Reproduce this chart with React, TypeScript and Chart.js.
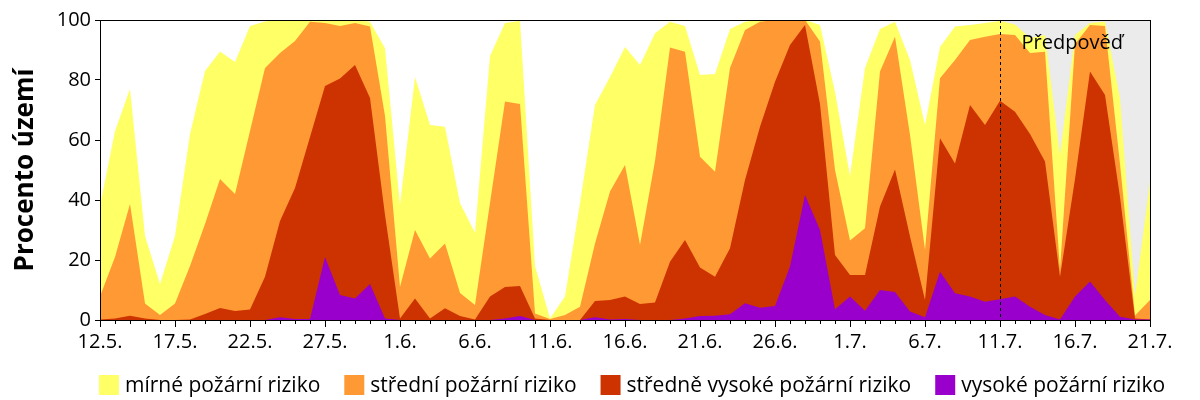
import React, { useEffect, useRef } from "react";
import { Chart, registerables } from "chart.js";

Chart.register(...registerables);

const labels: string[] = [
  "12.5.", "13.5.", "14.5.", "15.5.", "16.5.", "17.5.", "18.5.", "19.5.", "20.5.", "21.5.",
  "22.5.", "23.5.", "24.5.", "25.5.", "26.5.", "27.5.", "28.5.", "29.5.", "30.5.", "31.5.",
  "1.6.", "2.6.", "3.6.", "4.6.", "5.6.", "6.6.", "7.6.", "8.6.", "9.6.", "10.6.",
  "11.6.", "12.6.", "13.6.", "14.6.", "15.6.", "16.6.", "17.6.", "18.6.", "19.6.", "20.6.",
  "21.6.", "22.6.", "23.6.", "24.6.", "25.6.", "26.6.", "27.6.", "28.6.", "29.6.", "30.6.",
  "1.7.", "2.7.", "3.7.", "4.7.", "5.7.", "6.7.", "7.7.", "8.7.", "9.7.", "10.7.",
  "11.7.", "12.7.", "13.7.", "14.7.", "15.7.", "16.7.", "17.7.", "18.7.", "19.7.", "20.7.",
  "21.7.",
];

// cumulative share of territory (%) with at least the given risk level
const mirne: number[] = [
  38, 63, 77, 28, 12, 28, 62, 83, 89.5, 86,
  98, 99.5, 100, 100, 100, 100, 100, 100, 99.4, 90.6,
  38.3, 81, 65, 64.4, 39, 29, 88, 99, 99.7, 18,
  0.5, 7.8, 39, 71.7, 81, 91, 85, 95.6, 99.4, 98,
  81.7, 82, 97, 99.4, 100, 100, 100, 100, 98.3, 76,
  48, 84, 97, 99.4, 86.7, 65, 91, 97.8, 98.3, 99,
  99.7, 98.5, 94, 95, 55, 95, 99, 99.4, 74, 8,
  46,
];

const stredni: number[] = [
  7.8, 21, 38.7, 5.5, 1.7, 5.5, 18, 32, 47, 42,
  63, 84, 89, 93, 99.4, 99, 98, 99, 97.8, 68,
  11, 30, 20.5, 25.5, 9, 5, 39, 72.8, 72, 2.2,
  0.3, 1.7, 4.4, 25.5, 42.8, 51.7, 25, 53, 90.8, 89.4,
  54.4, 49.4, 84, 96.7, 99.4, 100, 100, 100, 92.8, 50,
  26.5, 30.6, 82.8, 94.4, 61.7, 23.3, 80.6, 86.7, 93.3, 94.4,
  95.3, 95, 89, 89.4, 16.7, 92, 98.3, 98, 52, 1.5,
  6.7,
];

const stredneVysoke: number[] = [
  0.2, 0.5, 1.4, 0.5, 0, 0, 0.2, 2, 4, 3,
  3.5, 14.4, 33, 44, 61, 78, 80.5, 85, 74, 35,
  0.5, 7.2, 0.5, 3.9, 1.3, 0.2, 7.8, 11, 11.3, 0.5,
  0, 0, 0, 6.3, 6.7, 7.8, 5.3, 5.8, 19.4, 26.7,
  17.5, 14.4, 23.9, 46.7, 64.4, 79.4, 91.7, 98.3, 72, 21.7,
  15, 15, 37.8, 50.2, 27.8, 6.7, 60.6, 52.2, 71.7, 65,
  73.1, 69.4, 62, 52.8, 14.4, 47, 82.8, 75, 41, 0.5,
  0.2,
];

const vysoke: number[] = [
  0, 0, 0, 0, 0, 0, 0, 0, 0, 0,
  0, 0, 0.9, 0.3, 0.3, 21, 8.3, 7.2, 12, 0.5,
  0, 0, 0, 0, 0, 0, 0, 0.5, 1.3, 0,
  0, 0, 0, 0.9, 0.2, 0.3, 0, 0, 0, 0.5,
  1.3, 1.4, 1.9, 5.6, 4.1, 4.7, 17.8, 41.7, 30, 3.6,
  7.8, 3.1, 10, 9.3, 2.8, 0.9, 16.1, 8.9, 7.8, 6.1,
  6.9, 7.8, 4.4, 1.7, 0.2, 7.8, 12.8, 6.7, 1.1, 0.2,
  0.2,
];

const seriesNames = [
  "mírné požární riziko",
  "střední požární riziko",
  "středně vysoké požární riziko",
  "vysoké požární riziko",
];
const seriesColors = ["#FFFF66", "#FF9933", "#CC3300", "#9900CC"];

const yTicks = [0, 20, 40, 60, 80, 100];
const forecastStart = "11.7.";
const forecastLabel = "Předpověď";
const yTitle = "Procento území";

const FONT = "'Open Sans', 'DejaVu Sans', sans-serif";

const forecastPlugin = {
  id: "forecast",
  beforeDatasetsDraw(chart: any) {
    const { ctx, chartArea } = chart;
    const xs = chart.scales.x;
    const x0 = xs.getPixelForValue(labels.indexOf(forecastStart));
    ctx.save();
    ctx.fillStyle = "#EBEBEB";
    ctx.fillRect(x0, chartArea.top, chartArea.right - x0, chartArea.bottom - chartArea.top);
    ctx.restore();
  },
  afterDatasetsDraw(chart: any) {
    const { ctx, chartArea } = chart;
    const xs = chart.scales.x;
    const x0 = Math.round(xs.getPixelForValue(labels.indexOf(forecastStart))) + 0.5;
    ctx.save();
    ctx.strokeStyle = "#000";
    ctx.lineWidth = 1;
    ctx.setLineDash([3, 3]);
    ctx.beginPath();
    ctx.moveTo(x0, chartArea.top);
    ctx.lineTo(x0, chartArea.bottom);
    ctx.stroke();
    ctx.setLineDash([]);
    ctx.fillStyle = "#000";
    ctx.font = `20px ${FONT}`;
    ctx.textAlign = "left";
    ctx.textBaseline = "alphabetic";
    ctx.fillText(forecastLabel, x0 + 21, chartArea.top + 29);
    ctx.restore();
  },
  afterDraw(chart: any) {
    const { ctx, chartArea } = chart;
    ctx.save();
    ctx.strokeStyle = "#000";
    ctx.lineWidth = 1;
    ctx.strokeRect(
      Math.round(chartArea.left) + 0.5,
      Math.round(chartArea.top) + 0.5,
      Math.round(chartArea.right - chartArea.left),
      Math.round(chartArea.bottom - chartArea.top)
    );
    // minor day ticks
    const xs = chart.scales.x;
    ctx.beginPath();
    for (let i = 0; i < labels.length; i++) {
      if (i % 5 === 0) continue;
      const x = Math.round(xs.getPixelForValue(i)) + 0.5;
      ctx.moveTo(x, chartArea.bottom);
      ctx.lineTo(x, chartArea.bottom + 4);
    }
    ctx.stroke();

    // legend
    ctx.font = `21px ${FONT}`;
    ctx.textBaseline = "middle";
    ctx.textAlign = "left";
    const box = 20;
    const gap = 6;
    const itemGap = 24;
    const widths = seriesNames.map((n) => box + gap + ctx.measureText(n).width);
    const total = widths.reduce((a, b) => a + b, 0) + itemGap * (widths.length - 1);
    let x = 632 - total / 2;
    const yc = 385;
    seriesNames.forEach((n, i) => {
      ctx.fillStyle = seriesColors[i];
      ctx.fillRect(x, yc - box / 2, box, box);
      ctx.fillStyle = "#000";
      ctx.fillText(n, x + box + gap, yc + 1);
      x += widths[i] + itemGap;
    });
    ctx.restore();
  },
};

export default function App() {
  const ref = useRef<HTMLCanvasElement | null>(null);
  useEffect(() => {
    if (!ref.current) return;
    const seriesData = [mirne, stredni, stredneVysoke, vysoke];
    // draw order: index 0 on top -> put the highest level first
    const datasets = [3, 2, 1, 0].map((k) => ({
      label: seriesNames[k],
      data: seriesData[k],
      backgroundColor: seriesColors[k],
      borderColor: "rgba(0,0,0,0)",
      borderWidth: 0,
      pointRadius: 0,
      pointHoverRadius: 0,
      fill: "origin",
      tension: 0,
    }));
    const chart = new Chart(ref.current, {
      type: "line",
      data: { labels, datasets },
      options: {
        responsive: false,
        animation: false,
        layout: { padding: { top: 20, right: 50, left: 0, bottom: 0 } },
        plugins: {
          legend: { display: false },
          tooltip: { enabled: false },
        },
        scales: {
          x: {
            type: "category",
            offset: false,
            afterFit: (s: any) => {
              s.height = 80;
            },
            grid: {
              display: true,
              drawOnChartArea: false,
              drawTicks: true,
              tickLength: 7,
              color: (c: any) => (c.index % 5 === 0 ? "#000" : "rgba(0,0,0,0)"),
            },
            border: { display: true, color: "#000" },
            ticks: {
              autoSkip: false,
              maxRotation: 0,
              minRotation: 0,
              padding: 3,
              color: "#000",
              font: { family: FONT, size: 20 },
              callback: (_v: any, i: number) => (i % 5 === 0 ? labels[i] : ""),
            },
          },
          y: {
            min: 0,
            max: 100,
            afterFit: (s: any) => {
              s.width = 100;
            },
            afterBuildTicks: (s: any) => {
              s.ticks = yTicks.map((v) => ({ value: v }));
            },
            grid: {
              display: true,
              drawOnChartArea: false,
              drawTicks: true,
              tickLength: 5,
              color: "#000",
            },
            border: { display: true, color: "#000" },
            ticks: {
              padding: 4,
              color: "#000",
              font: { family: FONT, size: 20 },
            },
            title: {
              display: true,
              text: yTitle,
              color: "#000",
              font: { family: FONT, size: 26, weight: "bold" },
              padding: { top: 10, bottom: 0 },
            },
          },
        },
      },
      plugins: [forecastPlugin],
    });
    return () => chart.destroy();
  }, []);
  return (
    <div style={{ position: "fixed", left: 0, top: 0, width: 1200, height: 400, background: "#fff" }}>
      <canvas ref={ref} width={1200} height={400} style={{ width: 1200, height: 400, display: "block" }} />
    </div>
  );
}
